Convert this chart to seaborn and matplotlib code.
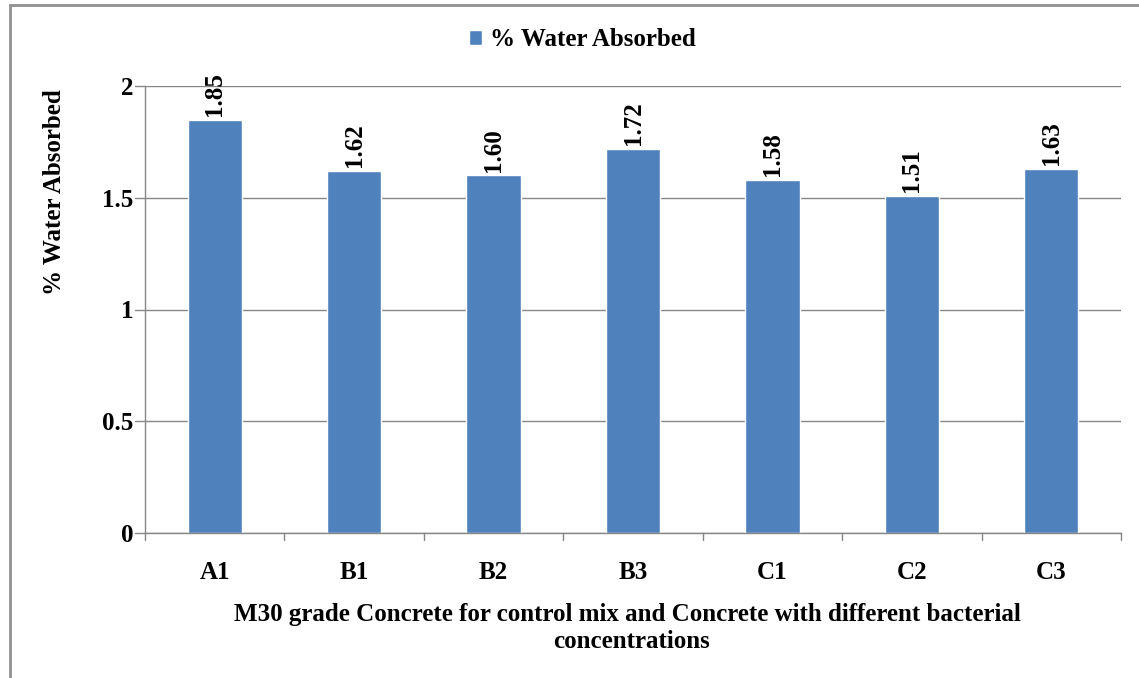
import matplotlib
matplotlib.use("Agg")
import matplotlib.pyplot as plt
import seaborn as sns
import pandas as pd
from matplotlib.patches import Rectangle

categories = ["A1", "B1", "B2", "B3", "C1", "C2", "C3"]
values = [1.85, 1.62, 1.60, 1.72, 1.58, 1.51, 1.63]
value_labels = ["1.85", "1.62", "1.60", "1.72", "1.58", "1.51", "1.63"]
yticks = [0, 0.5, 1, 1.5, 2]
ytick_labels = ["0", "0.5", "1", "1.5", "2"]

sns.set_theme(style="white")
plt.rcParams['font.family'] = ['Liberation Serif', 'DejaVu Serif']
plt.rcParams['font.weight'] = 'bold'
plt.rcParams['text.color'] = 'black'
plt.rcParams['axes.labelcolor'] = 'black'
plt.rcParams['xtick.color'] = 'black'
plt.rcParams['ytick.color'] = 'black'

df = pd.DataFrame({"cat": categories, "val": values})
W, H = 1139, 678
fig = plt.figure(figsize=(W / 100, H / 100), dpi=100)
ax = fig.add_axes([145 / W, 1 - 533 / H, (1121 - 145) / W, (533 - 86) / H])

blue = "#4F81BD"
sns.barplot(data=df, x="cat", y="val", color=blue, width=0.39, saturation=1,
            ax=ax, label="% Water Absorbed")

FS = 18
ax.set_ylim(0, 2)
ax.set_xlim(-0.5, len(categories) - 0.5)
ax.set_yticks(yticks)
ax.set_yticklabels(ytick_labels, fontsize=FS, fontweight='bold')
ax.set_xticks(range(len(categories)))
ax.set_xticklabels(categories, fontsize=FS, fontweight='bold')
ax.tick_params(axis='x', length=0, pad=20)
ax.tick_params(axis='y', length=0, pad=8.5)
# category separator ticks
for i in range(len(categories) + 1):
    ax.plot([i - 0.5, i - 0.5], [0, -0.03], color="#868686", lw=1, clip_on=False)
for y in yticks:
    ax.plot([-0.5 - 0.07, -0.5], [y, y], color="#868686", lw=1, clip_on=False)

ax.grid(axis='y', color="#868686", lw=1)
ax.set_axisbelow(True)
for s in ["top", "right"]:
    ax.spines[s].set_visible(False)
for s in ["left", "bottom"]:
    ax.spines[s].set_color("#868686")
    ax.spines[s].set_linewidth(1)

for i, (v, lab) in enumerate(zip(values, value_labels)):
    ax.annotate(lab, (i, v), xytext=(0, 2.5), textcoords="offset points",
                rotation=90, ha="center", va="bottom", fontsize=FS, fontweight='bold',
                color='black')

ax.set_ylabel("% Water Absorbed", fontsize=FS, fontweight='bold')
ax.yaxis.set_label_coords((66 - 145) / (1121 - 145), (533 - 192) / (533 - 86))
ax.set_xlabel("")
fig.text(627 / W, 1 - 615 / H, "M30 grade Concrete for control mix and Concrete with different bacterial",
         ha="center", va="center", fontsize=FS, fontweight='bold')
fig.text(632 / W, 1 - 641 / H, "concentrations",
         ha="center", va="center", fontsize=FS, fontweight='bold')

leg = ax.legend(loc="center", bbox_to_anchor=(582 / W, 1 - 40 / H), bbox_transform=fig.transFigure,
                frameon=False, prop={'weight': 'bold', 'size': FS}, handlelength=0.55,
                handleheight=0.55, handletextpad=0.3)

fig.patches.append(Rectangle((10 / W, -0.05), 1.2, 1 - 5 / H + 0.05, transform=fig.transFigure,
                             fill=False, edgecolor="#909090", lw=2))

fig.savefig("out.png", dpi=100)
